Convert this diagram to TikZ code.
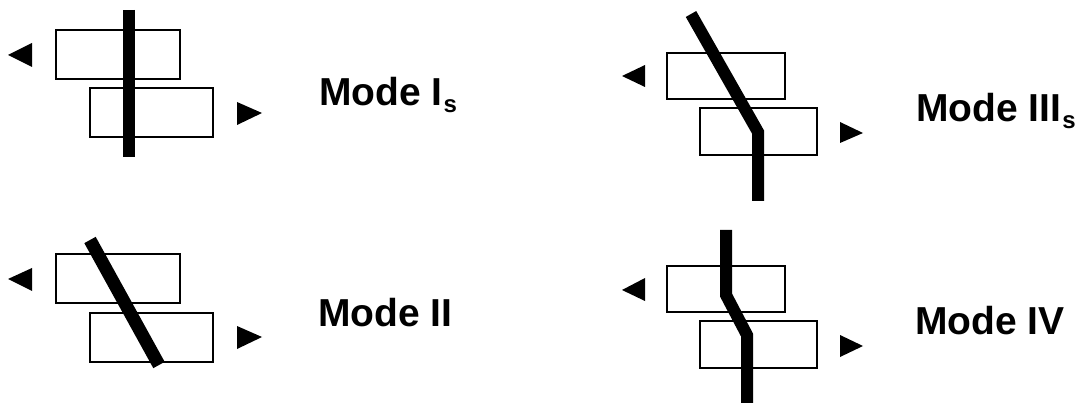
\documentclass[tikz,border=0pt]{standalone}
\usepackage{fontspec}
\setmainfont{Liberation Sans}
\begin{document}
\begin{tikzpicture}[x=1pt,y=-1pt,
  block/.style={draw=black, line width=2pt},
  fault/.style={draw=black, line width=12pt, line cap=butt, line join=miter},
  tip/.style={fill=black},
  modelabel/.style={anchor=base west, inner sep=0pt, font=\fontsize{39}{39}\selectfont\bfseries}]
\useasboundingbox (0,0) rectangle (1081,403);
\newcommand{\subs}[1]{\kern1pt\raisebox{-7pt}{\fontsize{24}{24}\selectfont #1}}

% Mode I_s : straight vertical strand
\draw[block] (56,30) rectangle (180,79);
\draw[block] (90,88) rectangle (213,137);
\draw[fault] (129,10) -- (129,157);
\fill[tip] (8,55) -- (32,43) -- (32,67) -- cycle;
\fill[tip] (262,113) -- (237,102) -- (237,125) -- cycle;
\node[modelabel] (m1) at (319,106) {Mode I\subs{s}};

% Mode II : inclined strand
\draw[block] (56,254) rectangle (180,303);
\draw[block] (90,313) rectangle (213,362);
\draw[fault, line width=13pt] (90,240) -- (159,365);
\fill[tip] (8,279) -- (32,268) -- (32,291) -- cycle;
\fill[tip] (262,337) -- (237,326) -- (237,349) -- cycle;
\node[modelabel] (m2) at (318,326) {Mode II};

% Mode III_s : inclined then vertical
\draw[block] (667,53) rectangle (785,99);
\draw[block] (700,108) rectangle (817,155);
\draw[fault] (691,14) -- (758,132) -- (758,201);
\fill[tip] (622,76) -- (645,65) -- (645,87) -- cycle;
\fill[tip] (863,133) -- (840,122) -- (840,143) -- cycle;
\node[modelabel] (m3) at (916,122) {Mode III\subs{s}};

% Mode IV : vertical, kinked, vertical
\draw[block] (667,266) rectangle (785,312);
\draw[block] (700,321) rectangle (817,368);
\draw[fault] (726,230) -- (726,295) -- (747,335) -- (747,403);
\fill[tip] (622,290) -- (645,278) -- (645,301) -- cycle;
\fill[tip] (863,346) -- (840,335) -- (840,357) -- cycle;
\node[modelabel] (m4) at (915,334) {Mode IV};
\end{tikzpicture}
\end{document}
